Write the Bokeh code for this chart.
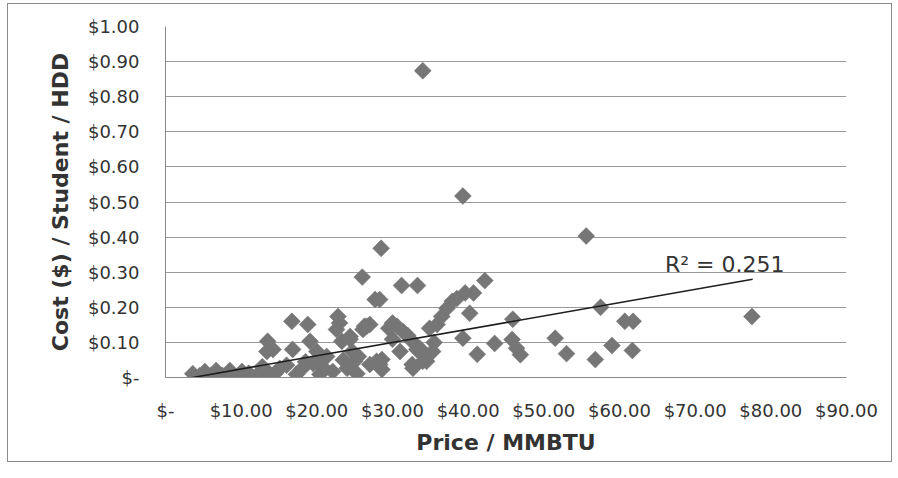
from bokeh.plotting import figure
from bokeh.models import Range1d, FixedTicker, ColumnDataSource
from bokeh.embed import file_html
from bokeh.resources import INLINE
from bokeh.core.properties import value
import math

# ---- data ----
price = [
    3.6, 4.5, 5.2, 6.0, 6.7, 7.5, 8.5, 9.0, 10.1, 10.5, 11.0,
    12.2, 12.8, 13.8, 13.5, 13.4, 14.2, 15.1, 14.5,
    16.7, 18.8, 16.8, 17.3, 18.1, 19.1, 20.0, 20.4, 21.3, 19.5, 16.0, 18.5, 21.0, 22.1, 20.5,
    22.8, 23.0, 22.6, 23.3, 24.7, 24.4, 24.0, 25.3, 26.1, 26.3, 25.0, 24.4, 27.0, 26.6, 27.9, 27.0, 25.5, 23.5,
    26.0, 27.7, 28.3, 28.5,
    28.3, 28.6, 28.6, 30.6, 31.4, 30.0, 32.6, 33.6, 34.0, 32.6, 34.5, 31.0, 33.2, 34.0, 32.7, 35.3,
    31.2, 33.3, 29.5, 30.0, 32.0,
    34.0, 34.9, 35.9, 36.5, 37.2, 37.9, 38.5, 39.6, 40.7, 42.2, 40.2, 39.3, 39.3, 41.2, 35.5,
    43.5, 45.8, 45.9, 46.4, 46.9, 51.5, 53.0, 55.6, 56.8, 57.5, 59.0, 60.7, 61.8, 61.7, 77.5,
]
cost = [
    0.011, 0.005, 0.017, 0.005, 0.020, 0.006, 0.020, 0.005, 0.017, 0.006, 0.012,
    0.009, 0.031, 0.009, 0.103, 0.074, 0.080, 0.026, 0.012,
    0.160, 0.151, 0.080, 0.009, 0.026, 0.103, 0.074, 0.009, 0.060, 0.040, 0.035, 0.045, 0.025, 0.017, 0.045,
    0.174, 0.155, 0.137, 0.103, 0.074, 0.117, 0.026, 0.011, 0.137, 0.146, 0.046, 0.109, 0.037, 0.146, 0.046, 0.151, 0.060, 0.050,
    0.286, 0.222, 0.222, 0.368,
    0.037, 0.051, 0.023, 0.146, 0.131, 0.109, 0.103, 0.083, 0.066, 0.037, 0.046, 0.074, 0.080, 0.046, 0.026, 0.074,
    0.262, 0.262, 0.140, 0.155, 0.120,
    0.874, 0.140, 0.151, 0.174, 0.197, 0.217, 0.225, 0.241, 0.241, 0.276, 0.183, 0.112, 0.517, 0.066, 0.100,
    0.097, 0.108, 0.166, 0.083, 0.065, 0.112, 0.068, 0.403, 0.051, 0.200, 0.091, 0.160, 0.160, 0.077, 0.174,
]

x_ticks = [0, 10, 20, 30, 40, 50, 60, 70, 80, 90]
x_tick_labels = ["$-", "$10.00", "$20.00", "$30.00", "$40.00", "$50.00", "$60.00", "$70.00", "$80.00", "$90.00"]
y_ticks = [0.0, 0.1, 0.2, 0.3, 0.4, 0.5, 0.6, 0.7, 0.8, 0.9, 1.0]
y_tick_labels = ["$-", "$0.10", "$0.20", "$0.30", "$0.40", "$0.50", "$0.60", "$0.70", "$0.80", "$0.90", "$1.00"]

trend_slope = 0.00378
trend_intercept = -0.0136
trend_x = [3.6, 77.6]
trend_y = [trend_slope * v + trend_intercept for v in trend_x]

r2_label = "R\u00b2 = 0.251"
r2_pos = (66.0, 0.321)

x_title = "Price / MMBTU"
y_title = "Cost ($) / Student / HDD"

FONT = "DejaVu Sans"

p = figure(width=885, height=459, output_backend="svg", toolbar_location=None,
           x_range=Range1d(0, 90), y_range=Range1d(0, 1.0))
p.min_border_left = 157
p.min_border_right = 47
p.min_border_top = 22
p.min_border_bottom = 86
p.outline_line_color = None
p.background_fill_color = "white"
p.border_fill_color = "white"
p.styles = {"border": "1px solid #8a8a8a", "margin-left": "7px", "margin-top": "3px"}

# grid
p.xgrid.grid_line_color = None
p.ygrid.grid_line_color = "#9a9a9a"
p.ygrid.grid_line_width = 1
p.ygrid.ticker = FixedTicker(ticks=y_ticks)

# axes
p.xaxis.ticker = FixedTicker(ticks=x_ticks)
p.yaxis.ticker = FixedTicker(ticks=y_ticks)
p.xaxis.major_label_overrides = {t: l for t, l in zip(x_ticks, x_tick_labels)}
p.yaxis.major_label_overrides = {t: l for t, l in zip(y_ticks, y_tick_labels)}
for ax in (p.xaxis[0], p.yaxis[0]):
    ax.major_tick_line_color = None
    ax.minor_tick_line_color = None
    ax.axis_line_color = "#8a8a8a"
    ax.major_label_text_font = FONT
    ax.major_label_text_font_size = "18px"
    ax.major_label_text_color = "#333333"
    ax.axis_label_text_font = FONT
    ax.axis_label_text_font_style = "bold"
    ax.axis_label_text_font_size = "22px"
    ax.axis_label_text_color = "#333333"
p.xaxis.axis_label = x_title
p.yaxis.axis_label = y_title
p.xaxis.major_label_standoff = 16
p.xaxis.axis_label_standoff = 6
p.yaxis.major_label_standoff = 20
p.yaxis.axis_label_standoff = 12

src = ColumnDataSource(data=dict(x=price, y=cost))
p.scatter("x", "y", source=src, marker="square", size=12, angle=math.pi / 4,
          fill_color="#767676", line_color="#767676", line_width=0.5)

p.line(trend_x, trend_y, line_color="#1e1e1e", line_width=1.6)

p.text(x=[r2_pos[0]], y=[r2_pos[1]], text=[r2_label], text_font=value(FONT),
       text_font_size="22px", text_color="#333333", text_baseline="alphabetic",
       text_align="left")

open("out.html", "w").write(file_html(p, INLINE))
